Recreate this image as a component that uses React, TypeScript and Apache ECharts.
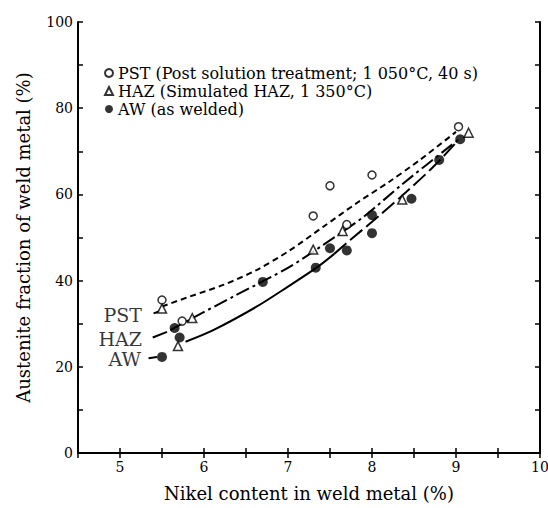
import React, { useEffect, useRef } from "react";
import * as echarts from "echarts";

// ---- data ----
const PST_NAME = "PST (Post solution treatment; 1 050°C, 40 s)";
const HAZ_NAME = "HAZ (Simulated HAZ, 1 350°C)";
const AW_NAME = "AW (as welded)";

const pstPoints: number[][] = [
  [5.5, 35.5], [5.74, 30.6], [7.3, 55], [7.5, 62], [7.7, 53], [8.0, 64.5], [9.03, 75.7],
];
const hazPoints: number[][] = [
  [5.5, 33.5], [5.69, 24.8], [5.86, 31.3], [7.3, 47.2], [7.65, 51.5], [8.36, 58.8], [9.15, 74.3],
];
const awPoints: number[][] = [
  [5.5, 22.3], [5.65, 29], [5.71, 26.8], [6.7, 39.7], [7.33, 43], [7.5, 47.5], [7.7, 47],
  [8.0, 55.2], [8.0, 51], [8.47, 59], [8.8, 68], [9.05, 72.8],
];

const pstCurve: number[][] = [
  [5.5, 34], [5.83, 36.3], [6.23, 39], [6.63, 42.5], [7.02, 47], [7.42, 52.5],
  [7.82, 58], [8.21, 63], [8.57, 68], [9.0, 74.5],
];
const hazCurve: number[][] = [
  [5.6, 28.5], [5.93, 32], [6.35, 36.3], [7.02, 43.2], [7.42, 48.3], [7.9, 54.8],
  [8.35, 62.2], [8.93, 71.2], [9.05, 73],
];
const awSolidCurve: number[][] = [
  [5.78, 25.8], [6.11, 28.5], [6.63, 34], [7.0, 38.6], [7.34, 43], [7.55, 46.2],
];
const awDashCurve: number[][] = [
  [7.55, 46.2], [7.74, 49.4], [8.1, 55.3], [8.41, 60.6], [8.73, 66.4], [9.0, 72],
];

const leaders: number[][][] = [
  [[5.4, 32.4], [5.47, 32.9]],
  [[5.39, 26.8], [5.56, 28.1]],
  [[5.34, 22.0], [5.44, 22.3]],
];
const curveLabels: (number | string)[][] = [
  [5.262, 32.0, "PST"],
  [5.262, 26.45, "HAZ"],
  [5.25, 21.8, "AW"],
];

const X_MIN = 4.5;
const X_MAX = 10;
const X_STEP = 0.5;
const Y_MIN = 0;
const Y_MAX = 100;
const Y_STEP = 10;

const SERIF = "'DejaVu Serif', 'Liberation Serif', serif";

export default function App() {
  const ref = useRef<HTMLDivElement>(null);
  useEffect(() => {
    if (!ref.current) return;
    const chart = echarts.init(ref.current, undefined, { renderer: "svg" });
    const axisLine = { show: true, lineStyle: { color: "#000", width: 2 } };
    const tickIn = { show: true, inside: true, length: 5, lineStyle: { color: "#000", width: 1.5 } };
    const option: any = {
      animation: false,
      backgroundColor: "#fff",
      grid: { left: 78, right: 8, top: 22, bottom: 55, containLabel: false, outerBoundsMode: "none" },
      legend: {
        data: [
          { name: PST_NAME, icon: "circle" },
          { name: HAZ_NAME, icon: "triangle" },
          { name: AW_NAME, icon: "circle" },
        ],
        orient: "vertical",
        left: 104,
        top: 64,
        itemWidth: 8,
        itemHeight: 8,
        itemGap: 0,
        padding: 0,
        textStyle: { fontFamily: SERIF, fontSize: 16, color: "#000", lineHeight: 18 },
      },
      xAxis: [
        {
          type: "value",
          min: X_MIN,
          max: X_MAX,
          interval: X_STEP,
          position: "bottom",
          name: "Nikel content in weld metal (%)",
          nameLocation: "middle",
          nameGap: 31,
          nameTextStyle: { fontFamily: SERIF, fontSize: 18, color: "#000" },
          axisLine,
          axisTick: tickIn,
          splitLine: { show: false },
          axisLabel: {
            fontFamily: SERIF,
            fontSize: 14,
            color: "#000",
            margin: 7,
            formatter: (v: number) => (Math.abs(v - Math.round(v)) < 1e-6 ? String(Math.round(v)) : ""),
          },
        },
        {
          type: "value",
          min: X_MIN,
          max: X_MAX,
          interval: X_STEP,
          position: "top",
          axisLine,
          axisTick: tickIn,
          splitLine: { show: false },
          axisLabel: { show: false },
        },
      ],
      yAxis: [
        {
          type: "value",
          min: Y_MIN,
          max: Y_MAX,
          interval: Y_STEP,
          position: "left",
          name: "Austenite fraction of weld metal (%)",
          nameLocation: "middle",
          nameGap: 46,
          nameTextStyle: { fontFamily: SERIF, fontSize: 18, color: "#000" },
          axisLine,
          axisTick: tickIn,
          splitLine: { show: false },
          axisLabel: {
            fontFamily: SERIF,
            fontSize: 14,
            color: "#000",
            margin: 5,
            formatter: (v: number) => (v % 20 === 0 ? String(v) : ""),
          },
        },
        {
          type: "value",
          min: Y_MIN,
          max: Y_MAX,
          interval: Y_STEP,
          position: "right",
          axisLine,
          axisTick: tickIn,
          splitLine: { show: false },
          axisLabel: { show: false },
        },
      ],
      series: [
        {
          name: "PST curve",
          type: "line",
          data: pstCurve,
          smooth: 0.3,
          symbol: "none",
          lineStyle: { color: "#000", width: 2, type: [6, 4] },
          z: 2,
        },
        {
          name: "HAZ curve",
          type: "line",
          data: hazCurve,
          smooth: 0.3,
          symbol: "none",
          lineStyle: { color: "#000", width: 2, type: [14, 4, 3, 4] },
          z: 2,
        },
        {
          name: "AW curve",
          type: "line",
          data: awSolidCurve,
          smooth: 0.3,
          symbol: "none",
          lineStyle: { color: "#000", width: 2, type: "solid" },
          z: 2,
        },
        {
          name: "AW curve dashed",
          type: "line",
          data: awDashCurve,
          smooth: 0.3,
          symbol: "none",
          lineStyle: { color: "#000", width: 2, type: [16, 5] },
          z: 2,
        },
        ...leaders.map((seg, i) => ({
          name: "leader" + i,
          type: "line",
          data: seg,
          symbol: "none",
          lineStyle: { color: "#000", width: 2 },
          z: 2,
        })),
        {
          name: "curve labels",
          type: "scatter",
          data: curveLabels,
          symbolSize: 0,
          label: {
            show: true,
            position: "left",
            distance: 0,
            formatter: (p: any) => p.value[2],
            fontFamily: SERIF,
            fontSize: 19,
            color: "#000",
          },
          z: 3,
        },
        {
          name: PST_NAME,
          type: "scatter",
          data: pstPoints,
          symbol: "circle",
          symbolSize: 8,
          itemStyle: { color: "#fff", borderColor: "#000", borderWidth: 1.5 },
          z: 5,
        },
        {
          name: HAZ_NAME,
          type: "scatter",
          data: hazPoints,
          symbol: "triangle",
          symbolSize: 9,
          itemStyle: { color: "#fff", borderColor: "#000", borderWidth: 1.5 },
          z: 5,
        },
        {
          name: AW_NAME,
          type: "scatter",
          data: awPoints,
          symbol: "circle",
          symbolSize: 10,
          itemStyle: { color: "#000", borderColor: "#000", borderWidth: 0 },
          z: 6,
        },
      ],
    };
    chart.setOption(option);
    return () => chart.dispose();
  }, []);
  return (
    <div
      ref={ref}
      style={{ position: "absolute", left: 0, top: 0, width: 548, height: 508, background: "#fff" }}
    />
  );
}
